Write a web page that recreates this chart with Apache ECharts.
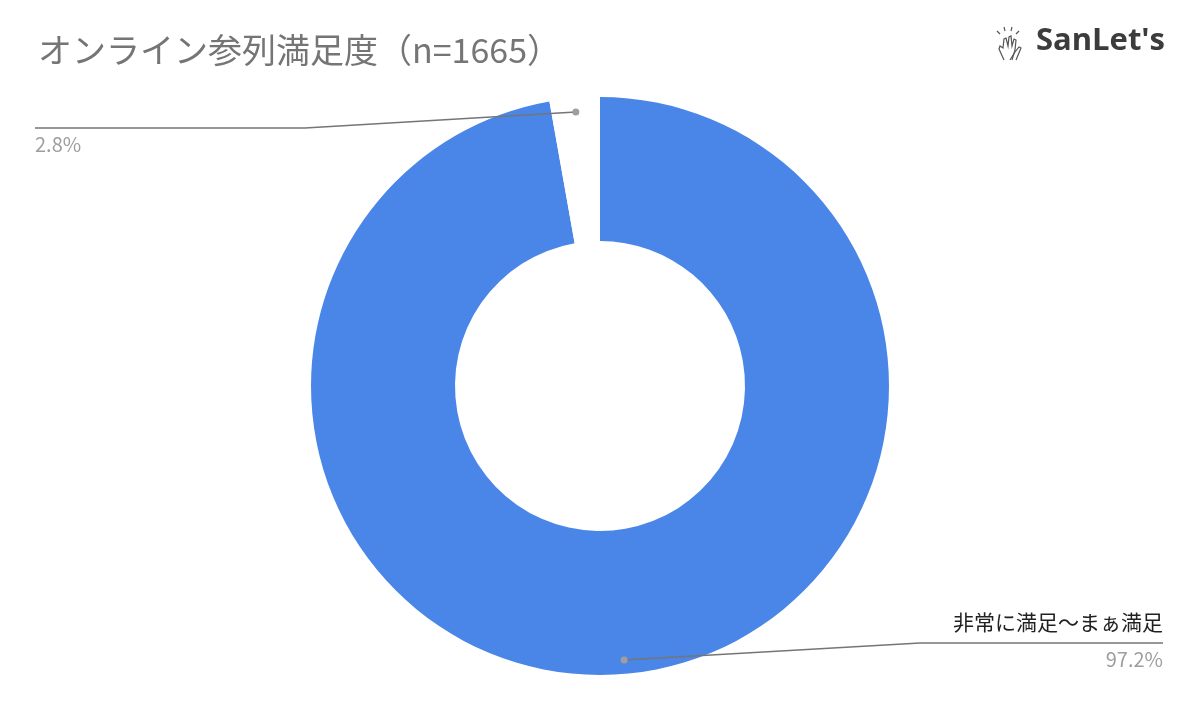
<!DOCTYPE html>
<html><head><meta charset="utf-8">
<script src="https://cdn.jsdelivr.net/npm/echarts@6/dist/echarts.min.js"></script>
<style>html,body{margin:0;padding:0;background:#fff}#c{width:1200px;height:710px}</style>
</head><body><div id="c"></div>
<script>
const titleText = 'オンライン参列満足度（n=1665）';
const categories = ['非常に満足〜まぁ満足', ''];
const values = [97.2, 2.8];
const sliceColors = ['#4a86e8', '#ffffff'];

const CX = 600, CY = 386, R_IN = 145, R_OUT = 289, R_DOT = 275;
const total = values.reduce((a, b) => a + b, 0);
function midAngle(i) {
  let cum = 0;
  for (let k = 0; k < i; k++) cum += values[k];
  return (cum + values[i] / 2) / total * Math.PI * 2; // clockwise from top
}
function dotPoint(i) {
  const a = midAngle(i);
  return [CX + R_DOT * Math.sin(a), CY - R_DOT * Math.cos(a)];
}

const chart = echarts.init(document.getElementById('c'));
const font = "'Noto Sans CJK JP', 'Noto Sans', sans-serif";
const pieData = (transparent) => categories.map((n, i) => ({
  name: n, value: values[i],
  itemStyle: { color: transparent ? 'rgba(0,0,0,0)' : sliceColors[i] }
}));
const iconStyle = { stroke: '#555', lineWidth: 1.2, fill: 'none' };
const hand1 = [[1004, 60], [999, 49], [1000, 46], [1003, 48], [1004, 39], [1006, 38], [1008, 46], [1009, 37], [1011, 36], [1012, 46], [1014, 39], [1016, 40], [1015, 50], [1012, 60]];
const hand2 = [[1010, 60], [1015, 52], [1019, 47], [1021, 48], [1016, 60]];
chart.setOption({
  backgroundColor: '#ffffff',
  animation: false,
  title: {
    text: titleText, left: 33, top: 28,
    textStyle: { fontFamily: font, fontSize: 34, fontWeight: 'normal', color: '#757575' }
  },
  graphic: [
    { type: 'text', right: 35, top: 26, style: { text: "SanLet's", fontFamily: "'Open Sans', sans-serif", fontWeight: 'bold', fontSize: 31, fill: '#3c3c3c' } },
    { type: 'polyline', shape: { points: hand1 }, style: iconStyle },
    { type: 'polyline', shape: { points: hand2 }, style: iconStyle },
    { type: 'line', shape: { x1: 1000, y1: 34, x2: 997, y2: 31 }, style: iconStyle },
    { type: 'line', shape: { x1: 1005, y1: 31, x2: 1004, y2: 27 }, style: iconStyle },
    { type: 'line', shape: { x1: 1011, y1: 31, x2: 1012, y2: 27 }, style: iconStyle },
    { type: 'line', shape: { x1: 1016, y1: 34, x2: 1019, y2: 31 }, style: iconStyle }
  ].concat(values.map((v, i) => {
    const p = dotPoint(i);
    return { type: 'circle', z: 100, shape: { cx: p[0], cy: p[1], r: 3.5 }, style: { fill: '#9e9e9e' } };
  })),
  series: [{
    type: 'pie', z: 2,
    center: [CX, CY],
    radius: [R_IN, R_OUT],
    startAngle: 90, clockwise: true, silent: true,
    data: pieData(false),
    label: { show: false }, labelLine: { show: false }
  }, {
    type: 'pie', z: 5,
    center: [CX, CY],
    radius: [R_IN, R_OUT],
    startAngle: 90, clockwise: true, silent: true,
    data: pieData(true),
    label: {
      show: true,
      position: 'outside',
      formatter: p => '{name|' + (p.name || ' ') + '}\n{per|' + values[p.dataIndex].toFixed(1) + '%}',
      rich: {
        name: { fontFamily: font, fontSize: 21, color: '#212121', lineHeight: 32 },
        per: { fontFamily: font, fontSize: 20, color: '#9e9e9e', lineHeight: 42 }
      }
    },
    labelLine: { show: true, length: 20, length2: 20, lineStyle: { color: '#757575', width: 1.5 } },
    labelLayout: function (params) {
      const i = params.dataIndex;
      const dot = dotPoint(i);
      const isLeft = dot[0] < CX;
      const lineY = dot[1] + (dot[1] < CY ? 16 : -17);
      const endX = isLeft ? 35 : 1163;
      const bendX = isLeft ? 305 : 920;
      return {
        x: endX, y: lineY,
        align: isLeft ? 'left' : 'right',
        verticalAlign: 'middle',
        labelLinePoints: [dot, [bendX, lineY], [endX, lineY]]
      };
    }
  }]
});
</script></body></html>
